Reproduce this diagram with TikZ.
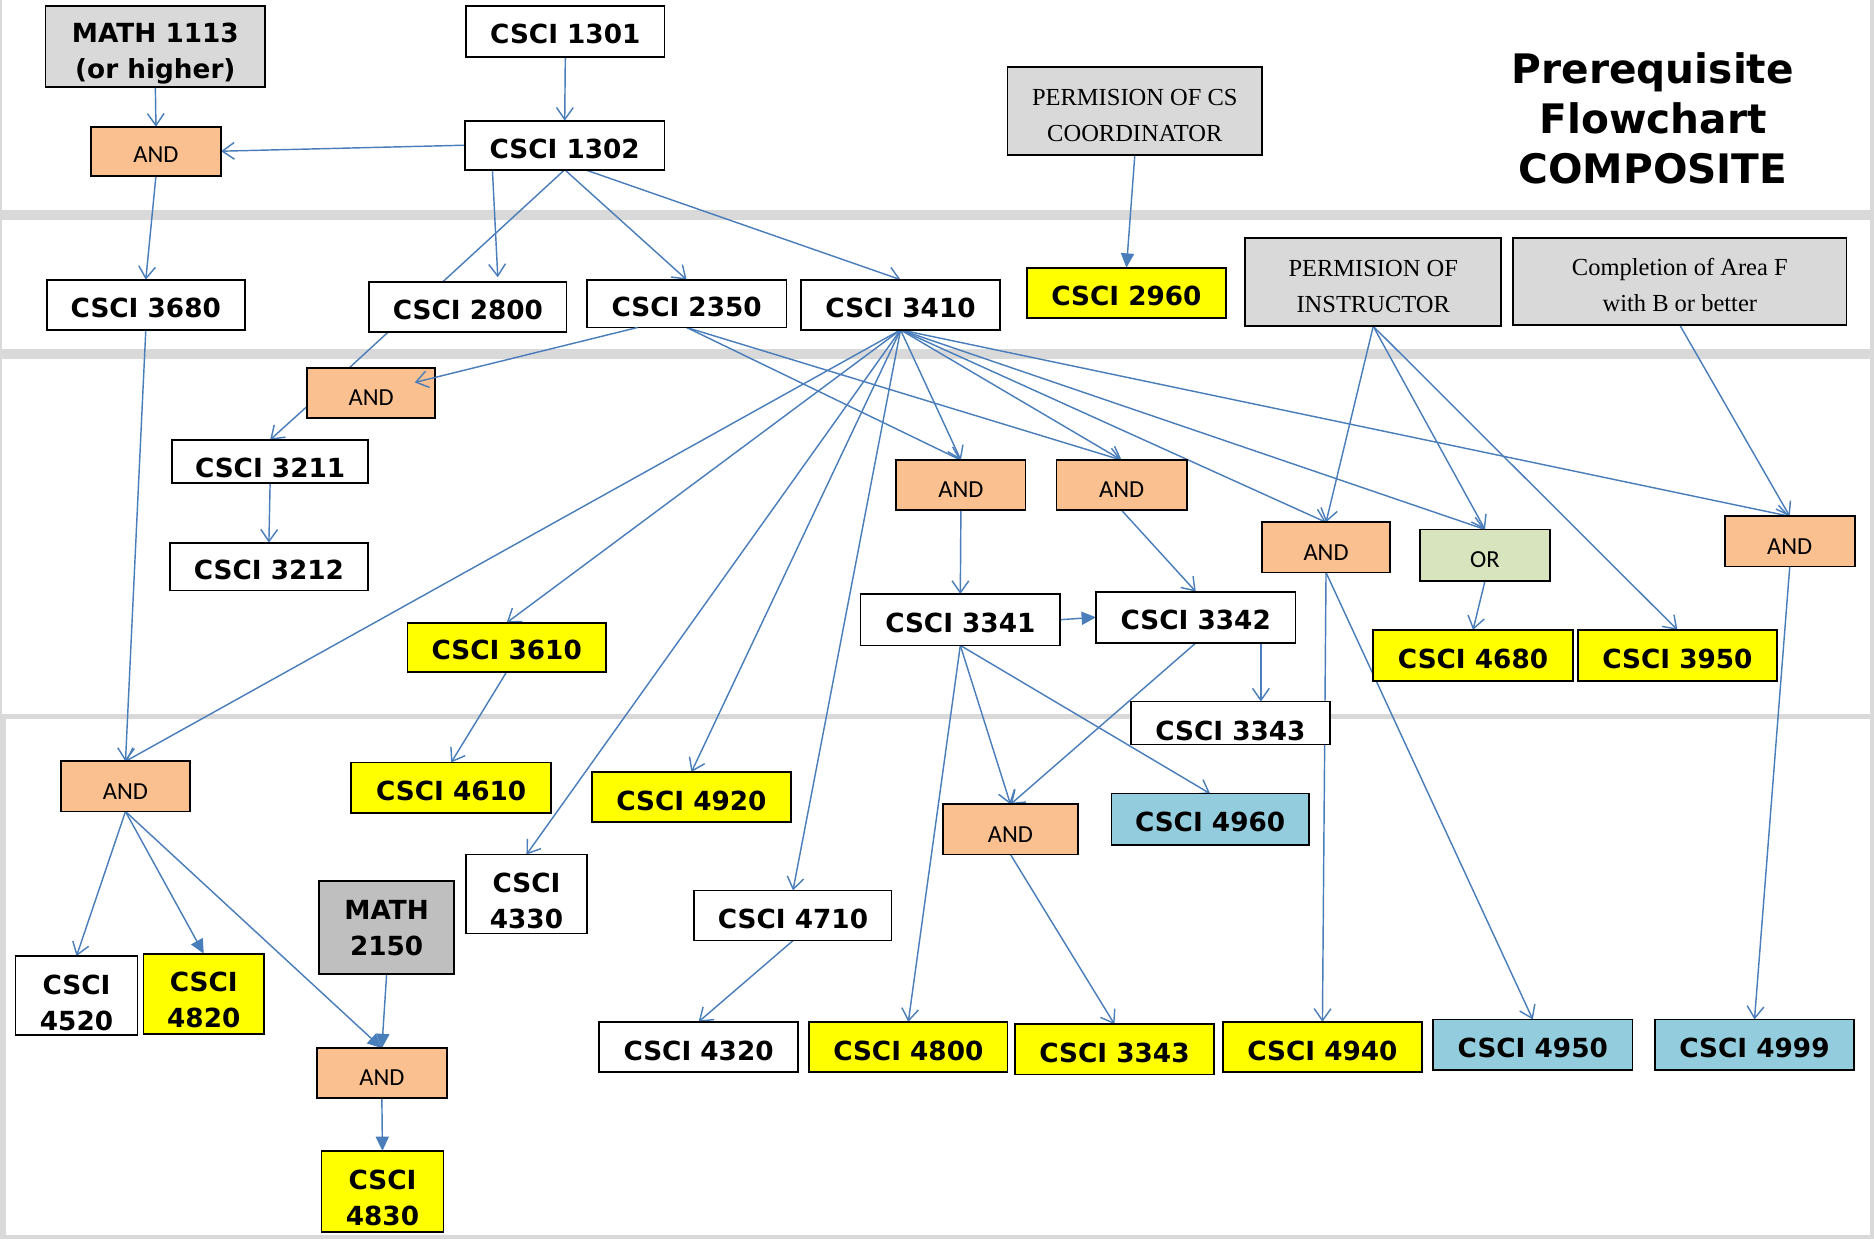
\documentclass[tikz,border=0pt]{standalone}
\usepackage{fontspec}
\setmainfont{DejaVu Sans}
\newfontfamily\crsfont{DejaVu Sans}
\newfontfamily\serffont{Liberation Serif}
\newfontfamily\gatefont{Carlito}
\usetikzlibrary{arrows.meta,calc}
\pgfdeclarelayer{bglayer}
\pgfdeclarelayer{edgelayer}
\pgfsetlayers{bglayer,edgelayer,main}
\definecolor{lineblue}{RGB}{74,126,187}
\definecolor{bandgray}{RGB}{217,217,217}
\definecolor{boxgray}{RGB}{217,217,217}
\definecolor{darkgray2}{RGB}{191,191,191}
\definecolor{gateorange}{RGB}{250,192,144}
\definecolor{gategreen}{RGB}{215,228,189}
\definecolor{lightblue2}{RGB}{147,205,221}
\definecolor{yel}{RGB}{255,255,0}
% #1 name, #2-#5 corners, #6 style, #7 text, #8 downward text offset
\newcommand\mkbox[8]{%
  \node[#6, minimum width=#4pt-#2pt, minimum height=#5pt-#3pt] (#1) at ({(#2+#4)/2},{(#3+#5)/2}) {};
  \node[#6, draw=none, fill=none, minimum width=0pt, minimum height=0pt] (#1-t) at ($(#1.center)+(0,#8)$) {#7};}
\tikzset{
  base/.style={draw=black, line width=1.5pt, inner sep=0pt, outer sep=0pt, align=center},
  course/.style={base, fill=white, font=\crsfont\bfseries\fontsize{22}{30}\selectfont},
  ycourse/.style={course, fill=yel},
  bcourse/.style={course, fill=lightblue2},
  gcourse/.style={course, fill=boxgray},
  dgcourse/.style={course, fill=darkgray2},
  note/.style={base, fill=boxgray, font=\serffont\fontsize{20.5}{30.5}\selectfont},
  gate/.style={base, fill=gateorange, font=\gatefont\fontsize{20.5}{24}\selectfont},
  ggate/.style={gate, fill=gategreen},
  ln/.style={draw=lineblue, line width=1.2pt},
  arr/.style={ln, -{Straight Barb[length=10pt,width=14pt,line width=1.2pt]}},
  farr/.style={ln, -{Triangle[length=12pt,width=11pt]}},
}
\begin{document}
\begin{tikzpicture}[x=1pt,y=-1pt]
\useasboundingbox (0,0) rectangle (1568,1037);
\begin{pgfonlayer}{bglayer}
\fill[bandgray] (0,0) rectangle (1568,1037);
\fill[white] (2,0) rectangle (1565,176);
\fill[white] (2,184) rectangle (1565,292);
\fill[white] (2,300) rectangle (1565,597);
\fill[white] (5,602) rectangle (1565,1033);
\end{pgfonlayer}
% top section
\mkbox{m1113}{38}{5}{222}{73}{gcourse}{MATH 1113\\(or higher)}{6}
\mkbox{c1301}{390}{5}{556}{48}{course}{CSCI 1301}{2}
\mkbox{and1}{76}{106}{185}{147}{gate}{AND}{3}
\mkbox{c1302}{389}{101}{556}{142}{course}{CSCI 1302}{3}
\mkbox{permcs}{843}{56}{1056}{130}{note}{PERMISION OF CS\\COORDINATOR}{3.5}
\node[font=\crsfont\bfseries\fontsize{34}{42}\selectfont, align=center] (title) at (1383,99) {Prerequisite\\Flowchart\\COMPOSITE};
% second section
\mkbox{c3680}{39}{234}{205}{276}{course}{CSCI 3680}{2.5}
\mkbox{c2800}{309}{236}{474}{278}{course}{CSCI 2800}{2.5}
\mkbox{c2350}{491}{234}{658}{274}{course}{CSCI 2350}{2.5}
\mkbox{c3410}{670}{234}{837}{276}{course}{CSCI 3410}{2.5}
\mkbox{c2960}{859}{224}{1026}{266}{ycourse}{CSCI 2960}{2.5}
\mkbox{perminst}{1042}{199}{1256}{273}{note}{PERMISION OF\\INSTRUCTOR}{3.5}
\mkbox{areaf}{1266}{199}{1545}{272}{note}{Completion of Area F\\with B or better}{3}
% third section
\mkbox{and2}{257}{308}{364}{350}{gate}{AND}{4}
\mkbox{c3211}{144}{368}{308}{404}{course}{CSCI 3211}{5.5}
\mkbox{c3212}{142}{454}{308}{494}{course}{CSCI 3212}{2.5}
\mkbox{c3610}{341}{521}{507}{562}{ycourse}{CSCI 3610}{2.5}
\mkbox{and3}{750}{385}{858}{427}{gate}{AND}{4}
\mkbox{and4}{884}{385}{993}{427}{gate}{AND}{4}
\mkbox{and5}{1056}{437}{1163}{479}{gate}{AND}{4}
\mkbox{gor}{1188}{443}{1297}{486}{ggate}{OR}{4}
\mkbox{and6}{1443}{432}{1552}{474}{gate}{AND}{4}
\mkbox{c3341}{720}{497}{887}{540}{course}{CSCI 3341}{3}
\mkbox{c3342}{917}{495}{1084}{538}{course}{CSCI 3342}{2.5}
\mkbox{c4680}{1149}{527}{1316}{570}{ycourse}{CSCI 4680}{2.5}
\mkbox{c3950}{1320}{527}{1487}{570}{ycourse}{CSCI 3950}{2.5}
\mkbox{c3343a}{946}{587}{1113}{623}{course}{CSCI 3343}{6.5}
% fourth section
\mkbox{and7}{51}{637}{159}{679}{gate}{AND}{4}
\mkbox{c4610}{294}{638}{461}{680}{ycourse}{CSCI 4610}{2.5}
\mkbox{c4920}{495}{646}{662}{688}{ycourse}{CSCI 4920}{3}
\mkbox{and8}{789}{673}{902}{715}{gate}{AND}{4}
\mkbox{c4960}{930}{664}{1095}{707}{bcourse}{CSCI 4960}{2.5}
\mkbox{c4330}{390}{715}{491}{781}{course}{CSCI\\4330}{5.5}
\mkbox{m2150}{267}{737}{380}{815}{dgcourse}{MATH\\2150}{0.5}
\mkbox{c4710}{581}{745}{746}{787}{course}{CSCI 4710}{3}
\mkbox{c4520}{13}{800}{115}{866}{course}{CSCI\\4520}{6}
\mkbox{c4820}{120}{798}{221}{865}{ycourse}{CSCI\\4820}{5}
\mkbox{and9}{265}{877}{374}{919}{gate}{AND}{4}
\mkbox{c4830}{269}{963}{371}{1031}{ycourse}{CSCI\\4830}{5}
\mkbox{c4320}{501}{855}{668}{897}{course}{CSCI 4320}{3}
\mkbox{c4800}{677}{855}{843}{897}{ycourse}{CSCI 4800}{3}
\mkbox{c3343b}{849}{857}{1016}{899}{ycourse}{CSCI 3343}{3}
\mkbox{c4940}{1023}{855}{1190}{897}{ycourse}{CSCI 4940}{3}
\mkbox{c4950}{1199}{853}{1366}{895}{bcourse}{CSCI 4950}{3}
\mkbox{c4999}{1385}{853}{1551}{895}{bcourse}{CSCI 4999}{3}
% connectors
\begin{pgfonlayer}{edgelayer}
\draw[arr] (m1113.south) -- (and1.north);
\draw[arr] (c1301.south) -- (c1302.north);
\draw[arr] (c1302.west) -- (and1.east);
\draw[arr] (and1.south) -- (c3680.north);
\draw[arr] ($(c1302.south west)+(23,0)$) -- ($(c2800.north)+(25,-4)$);
\draw[arr] (c1302.south) -- (c2350.north);
\draw[arr] ($(c1302.south)+(17,0)$) -- (c3410.north);
\draw[ln] (c1302.south) -- ($(and2.north west)+(35,0)$);
\draw[arr] ($(and2.south west)+(0,-10)$) -- (c3211.north);
\draw[arr] (c3211.south) -- (c3212.north);
\draw[arr] (c2350.south) -- (and3.north);
\draw[arr] (c2350.south) -- (and4.north);
\foreach \t in {and7,c3610,c4330,c4920,c4710,and3,and4,and5,gor,and6}
  \draw[arr] (c3410.south) -- (\t.north);
\draw[arr] (c3680.south) -- (and7.north);
\draw[arr] (and3.south) -- (c3341.north);
\draw[arr] (and4.south) -- (c3342.north);
\draw[farr] (c3341.east) -- (c3342.west);
\draw[arr] ($(c3342.south east)+(-29,0)$) coordinate (t1) -- (t1 |- c3343a.north);
\draw[arr] (c3342.south) -- (and8.north);
\draw[arr] (c3341.south) -- (and8.north);
\draw[arr] (c3341.south) -- (c4960.north);
\draw[arr] (c3341.south) -- (c4800.north);
\draw[arr] (and8.south) -- (c3343b.north);
\draw[arr] (c3610.south) -- (c4610.north);
\draw[arr] (and7.south) -- (c4520.north);
\draw[farr] (and7.south) -- (c4820.north);
\draw[farr] (and7.south) -- (and9.north);
\draw[farr] (m2150.south) -- (and9.north);
\draw[farr] (and9.south) -- (c4830.north);
\draw[arr] (c4710.south) -- (c4320.north);
\draw[farr] (permcs.south) -- (c2960.north);
\draw[arr] (perminst.south) -- (and5.north);
\draw[arr] (perminst.south) -- (gor.north);
\draw[arr] (perminst.south) -- (c3950.north);
\draw[arr] (areaf.south) -- (and6.north);
\draw[arr] (and5.south) -- (c4940.north);
\draw[arr] (and5.south) -- (c4950.north);
\draw[arr] (gor.south) -- (c4680.north);
\draw[arr] (and6.south) -- (c4999.north);
\end{pgfonlayer}
\draw[arr] ($(c2350.south)+(-41,0)$) -- ($(and2.north east)+(-17,12)$);
\end{tikzpicture}
\end{document}
